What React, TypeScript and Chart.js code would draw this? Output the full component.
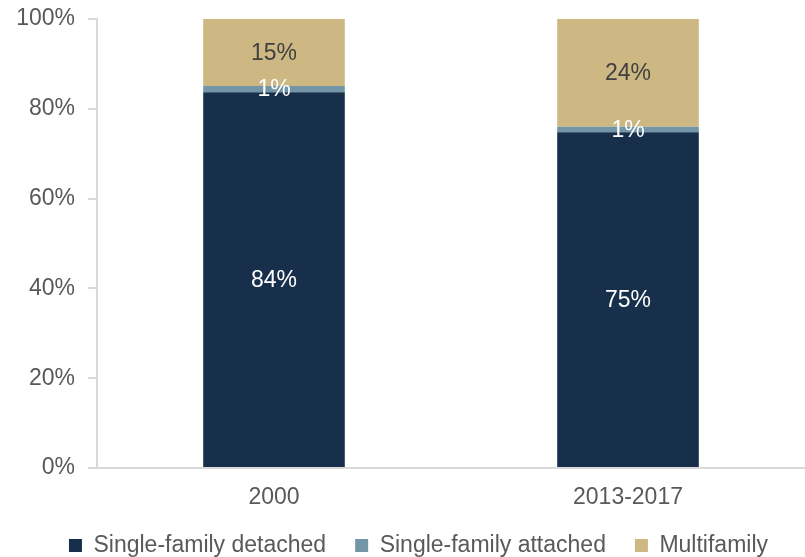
import React, { useEffect, useRef } from "react";
import { Chart, registerables } from "chart.js";

Chart.register(...registerables);

const categories = ["2000", "2013-2017"];
const seriesNames = ["Single-family detached", "Single-family attached", "Multifamily"];
const detached = [83.7, 74.8];
const attached = [1.4, 1.2];
const multifamily = [14.9, 24.0];
const detachedLabels = ["84%", "75%"];
const attachedLabels = ["1%", "1%"];
const multifamilyLabels = ["15%", "24%"];
const yTicks = [0, 20, 40, 60, 80, 100];

const FONT = "'Liberation Sans', Arial, sans-serif";
const FS = 23;

const labelPlugin = {
  id: "segLabels",
  afterLayout(chart: any) {
    if (chart.legend) {
      chart.legend.left += 32;
    }
  },
  afterDatasetsDraw(chart: any) {
    const ctx = chart.ctx;
    chart.data.datasets.forEach((ds: any, di: number) => {
      const meta = chart.getDatasetMeta(di);
      meta.data.forEach((el: any, i: number) => {
        const text = ds.segLabels[i];
        const y = (el.y + el.base) / 2;
        ctx.save();
        ctx.font = `${FS}px ${FONT}`;
        ctx.fillStyle = ds.labelColor;
        ctx.textAlign = "center";
        ctx.textBaseline = "middle";
        ctx.fillText(text, el.x, y + 1);
        ctx.restore();
      });
    });
  },
};

export default function App() {
  const ref = useRef<HTMLCanvasElement>(null);
  useEffect(() => {
    document.body.style.margin = "0";
    const chart = new Chart(ref.current!, {
      type: "bar",
      data: {
        labels: categories,
        datasets: [
          { label: seriesNames[0], data: detached, backgroundColor: "#172f4a", segLabels: detachedLabels, labelColor: "#ffffff" } as any,
          { label: seriesNames[1], data: attached, backgroundColor: "#7295a8", segLabels: attachedLabels, labelColor: "#ffffff" } as any,
          { label: seriesNames[2], data: multifamily, backgroundColor: "#cdb883", segLabels: multifamilyLabels, labelColor: "#404040" } as any,
        ],
      },
      options: {
        responsive: false,
        animation: false,
        devicePixelRatio: 1,
        layout: { padding: { top: 19, right: 0, bottom: -10, left: 0 } },
        datasets: { bar: { barPercentage: 0.4, categoryPercentage: 1 } },
        scales: {
          x: {
            stacked: true,
            grid: { display: false },
            border: { display: true, color: "#d9d9d9", width: 2 },
            ticks: { color: "#595959", font: { family: FONT, size: FS }, padding: 8 },
            afterFit(axis: any) {
              axis.height = 37;
            },
          },
          y: {
            stacked: true,
            min: 0,
            max: 100,
            afterBuildTicks(axis: any) {
              axis.ticks = yTicks.map((v) => ({ value: v }));
            },
            afterFit(axis: any) {
              axis.width = 97;
              axis.paddingTop = 0;
              axis.paddingBottom = 0;
            },
            grid: { drawOnChartArea: false, tickLength: 9, color: "#d9d9d9", lineWidth: 2 },
            border: { display: true, color: "#d9d9d9", width: 2 },
            ticks: {
              color: "#595959",
              font: { family: FONT, size: FS },
              padding: 13,
              callback: (v: any) => v + "%",
            },
          },
        },
        plugins: {
          legend: {
            position: "bottom",
            labels: {
              color: "#595959",
              font: { family: FONT, size: FS },
              boxWidth: 13,
              boxHeight: 13,
              padding: 29,
            },
          },
          tooltip: { enabled: false },
        },
      },
      plugins: [labelPlugin],
    });
    return () => chart.destroy();
  }, []);
  return <canvas ref={ref} width={805} height={557} style={{ display: "block" }} />;
}
